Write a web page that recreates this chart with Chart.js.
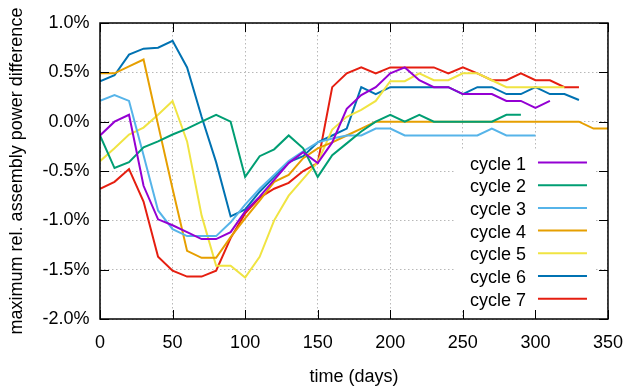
<!DOCTYPE html>
<html>
<head>
<meta charset="utf-8">
<script src="https://cdn.jsdelivr.net/npm/chart.js@4.4.1/dist/chart.umd.min.js"></script>
<style>
  html, body { margin: 0; padding: 0; background: #fff; }
  #wrap { width: 636px; height: 389px; }
</style>
</head>
<body>
<div id="wrap"><canvas id="powerChart" width="636" height="389"></canvas></div>
<script>
// sample times, every 10 days
const days = [0, 10, 20, 30, 40, 50, 60, 70, 80, 90, 100, 110, 120, 130, 140, 150, 160, 170,
  180, 190, 200, 210, 220, 230, 240, 250, 260, 270, 280, 290, 300, 310, 320, 330, 340, 350];

// max relative assembly power difference in %, one list per cycle
const cycle1 = [-0.14, 0.00, 0.07, -0.65, -0.99, -1.05, -1.12, -1.19, -1.19, -1.12, -0.91, -0.76,
  -0.59, -0.42, -0.31, -0.42, -0.21, 0.13, 0.27, 0.35, 0.49, 0.55, 0.42, 0.35, 0.35, 0.28, 0.28,
  0.28, 0.21, 0.21, 0.14, 0.21];
const cycle2 = [-0.14, -0.47, -0.41, -0.26, -0.20, -0.13, -0.07, 0.00, 0.07, 0.00, -0.56, -0.35,
  -0.28, -0.14, -0.27, -0.56, -0.34, -0.22, -0.10, 0.00, 0.07, 0.00, 0.07, 0.00, 0.00, 0.00, 0.00,
  0.00, 0.07, 0.07];
const cycle3 = [0.21, 0.27, 0.21, -0.34, -0.90, -1.09, -1.16, -1.16, -1.16, -1.02, -0.84, -0.68,
  -0.54, -0.40, -0.30, -0.21, -0.17, -0.14, -0.14, -0.07, -0.07, -0.14, -0.14, -0.14, -0.14, -0.14,
  -0.14, -0.07, -0.14, -0.14, -0.14];
const cycle4 = [0.49, 0.49, 0.56, 0.63, -0.03, -0.68, -1.31, -1.38, -1.38, -1.17, -0.98, -0.80,
  -0.61, -0.54, -0.37, -0.27, -0.21, -0.14, -0.07, 0.00, 0.00, 0.00, 0.00, 0.00, 0.00, 0.00, 0.00,
  0.00, 0.00, 0.00, 0.00, 0.00, 0.00, 0.00, -0.07, -0.07];
const cycle5 = [-0.40, -0.27, -0.13, -0.06, 0.07, 0.21, -0.20, -0.95, -1.46, -1.46, -1.58, -1.37,
  -1.00, -0.75, -0.58, -0.41, -0.08, 0.05, 0.12, 0.21, 0.41, 0.41, 0.49, 0.42, 0.42, 0.49, 0.49,
  0.42, 0.35, 0.35, 0.35, 0.35, 0.35];
const cycle6 = [0.41, 0.47, 0.68, 0.74, 0.75, 0.82, 0.55, 0.05, -0.41, -0.96, -0.89, -0.71,
  -0.56, -0.41, -0.35, -0.21, -0.14, -0.07, 0.35, 0.28, 0.35, 0.35, 0.35, 0.35, 0.35, 0.28, 0.35,
  0.35, 0.28, 0.28, 0.35, 0.28, 0.28, 0.22];
const cycle7 = [-0.68, -0.61, -0.48, -0.81, -1.37, -1.51, -1.57, -1.57, -1.51, -1.18, -0.93, -0.77,
  -0.68, -0.62, -0.50, -0.42, 0.35, 0.49, 0.55, 0.49, 0.55, 0.55, 0.55, 0.55, 0.49, 0.55, 0.49,
  0.42, 0.42, 0.49, 0.42, 0.42, 0.35, 0.35];

const cycleNames = ['cycle 1', 'cycle 2', 'cycle 3', 'cycle 4', 'cycle 5', 'cycle 6', 'cycle 7'];
const cycleColors = ['#9400d3', '#009e73', '#56b4e9', '#e69f00', '#f0e442', '#0072b2', '#e51e10'];
const cycleValues = [cycle1, cycle2, cycle3, cycle4, cycle5, cycle6, cycle7];

const xTicks = [0, 50, 100, 150, 200, 250, 300, 350];
const yTicks = [-2.0, -1.5, -1.0, -0.5, 0.0, 0.5, 1.0];

const FONT = '"Liberation Sans", Arial, Helvetica, sans-serif';
Chart.defaults.font.family = FONT;
Chart.defaults.font.size = 18;
Chart.defaults.color = '#000';

// border box, inward tick marks and the key (drawn inside the plot, gnuplot style)
const frameAndKey = {
  id: 'frameAndKey',
  beforeDatasetsDraw(chart) {
    const {ctx, chartArea: a} = chart;
    ctx.save();
    ctx.fillStyle = '#fff';
    ctx.fillRect(a.right - 152, a.top + 128, 140, 160);
    ctx.restore();
  },
  afterDatasetsDraw(chart) {
    const {ctx, chartArea: a, scales: {x, y}} = chart;
    ctx.save();
    ctx.strokeStyle = '#000';
    ctx.lineWidth = 1;
    ctx.beginPath();
    xTicks.forEach(v => {
      const px = Math.round(x.getPixelForValue(v)) + 0.5;
      ctx.moveTo(px, a.bottom); ctx.lineTo(px, a.bottom - 9);
      ctx.moveTo(px, a.top); ctx.lineTo(px, a.top + 9);
    });
    yTicks.forEach(v => {
      const py = Math.round(y.getPixelForValue(v)) + 0.5;
      ctx.moveTo(a.left, py); ctx.lineTo(a.left + 9, py);
      ctx.moveTo(a.right, py); ctx.lineTo(a.right - 9, py);
    });
    ctx.stroke();
    ctx.lineWidth = 1.5;
    ctx.strokeRect(a.left, a.top, a.right - a.left, a.bottom - a.top);

    // key
    ctx.font = '18px ' + FONT;
    ctx.textAlign = 'right';
    ctx.textBaseline = 'alphabetic';
    chart.data.datasets.forEach((ds, i) => {
      const rowY = a.top + 139.5 + i * 22.7;
      ctx.fillStyle = '#000';
      ctx.fillText(ds.label, a.right - 82, rowY + 7);
      ctx.strokeStyle = ds.borderColor;
      ctx.lineWidth = 2;
      ctx.beginPath();
      ctx.moveTo(a.right - 70, rowY);
      ctx.lineTo(a.right - 21, rowY);
      ctx.stroke();
    });
    ctx.restore();
  }
};

new Chart(document.getElementById('powerChart'), {
  type: 'line',
  data: {
    datasets: cycleValues.map((vals, i) => ({
      label: cycleNames[i],
      data: vals.map((v, j) => ({x: days[j], y: v})),
      borderColor: cycleColors[i],
      backgroundColor: cycleColors[i],
      borderWidth: 2,
      pointRadius: 0,
      tension: 0,
      fill: false
    }))
  },
  options: {
    responsive: false,
    animation: false,
    devicePixelRatio: 1,
    layout: { padding: { top: 23, right: 18, left: 0, bottom: 0 } },
    plugins: {
      legend: { display: false },
      tooltip: { enabled: false }
    },
    scales: {
      x: {
        type: 'linear',
        min: 0,
        max: 350,
        afterBuildTicks: s => { s.ticks = xTicks.map(v => ({value: v})); },
        afterFit: s => { s.height = 70; },
        ticks: { padding: 13, autoSkip: false, maxRotation: 0, callback: v => String(v) },
        grid: { color: '#b8b8b8', lineWidth: 1, drawTicks: false },
        border: { display: false, dash: [1.5, 2.5] },
        title: { display: true, text: 'time (days)', padding: { top: 0, bottom: 1 },
          font: { size: 18, lineHeight: 1.2 } }
      },
      y: {
        min: -2,
        max: 1,
        afterBuildTicks: s => { s.ticks = yTicks.map(v => ({value: v})); },
        afterFit: s => { s.width = 100; },
        ticks: { padding: 10.5, callback: v => v.toFixed(1) + '%' },
        grid: { color: '#b8b8b8', lineWidth: 1, drawTicks: false },
        border: { display: false, dash: [1.5, 2.5] },
        title: { display: true, text: 'maximum rel. assembly power difference',
          padding: { top: 6.5, bottom: 0 }, font: { size: 18, lineHeight: 1.2 } }
      }
    }
  },
  plugins: [frameAndKey]
});
</script>
</body>
</html>
